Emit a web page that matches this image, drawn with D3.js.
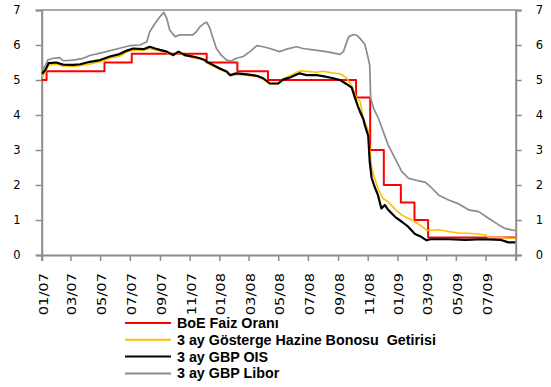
<!DOCTYPE html>
<html>
<head>
<meta charset="utf-8">
<script src="https://cdn.jsdelivr.net/npm/d3@7"></script>
<style>
  html, body { margin: 0; padding: 0; background: #fff; }
  svg { display: block; }
</style>
</head>
<body>
<svg id="chart" width="551" height="387"></svg>
<script>
// BoE policy rate (step changes)
const boeRate = [
  ["2007-01-01", 5.00], ["2007-01-11", 5.25], ["2007-05-10", 5.50], ["2007-07-05", 5.75],
  ["2007-12-06", 5.50], ["2008-02-07", 5.25], ["2008-04-10", 5.00], ["2008-10-08", 4.50],
  ["2008-11-06", 3.00], ["2008-12-04", 2.00], ["2009-01-08", 1.50], ["2009-02-05", 1.00],
  ["2009-03-05", 0.50], ["2009-08-31", 0.50]
];

// 3-month benchmark Treasury bill yield
const tbillYield = [
  ["2007-01-02", 5.10], ["2007-01-09", 5.25], ["2007-01-15", 5.42], ["2007-01-31", 5.45],
  ["2007-02-14", 5.40], ["2007-03-07", 5.39], ["2007-03-21", 5.41], ["2007-04-10", 5.46],
  ["2007-05-01", 5.52], ["2007-05-21", 5.62], ["2007-06-10", 5.68], ["2007-06-25", 5.80],
  ["2007-07-08", 5.86], ["2007-07-29", 5.85], ["2007-08-11", 5.90], ["2007-08-22", 5.86],
  ["2007-09-01", 5.83], ["2007-09-15", 5.78], ["2007-09-28", 5.70], ["2007-10-09", 5.78],
  ["2007-10-22", 5.70], ["2007-11-08", 5.64], ["2007-11-22", 5.60], ["2007-12-02", 5.55],
  ["2007-12-06", 5.50], ["2007-12-19", 5.40], ["2008-01-02", 5.30], ["2008-01-16", 5.22],
  ["2008-01-23", 5.12], ["2008-02-05", 5.16], ["2008-02-26", 5.14], ["2008-03-18", 5.10],
  ["2008-03-31", 5.02], ["2008-04-14", 4.88], ["2008-05-01", 4.90], ["2008-05-11", 5.03],
  ["2008-05-25", 5.12], ["2008-06-14", 5.26], ["2008-07-05", 5.24], ["2008-07-19", 5.22],
  ["2008-08-01", 5.25], ["2008-08-22", 5.20], ["2008-09-05", 5.18], ["2008-09-12", 5.12],
  ["2008-09-19", 5.05], ["2008-09-29", 4.84], ["2008-10-09", 4.48], ["2008-10-16", 4.40],
  ["2008-10-23", 3.90], ["2008-11-02", 3.55], ["2008-11-05", 3.05], ["2008-11-09", 2.50],
  ["2008-11-15", 2.20], ["2008-11-22", 1.90], ["2008-12-02", 1.62], ["2008-12-13", 1.52],
  ["2008-12-27", 1.31], ["2009-01-10", 1.14], ["2009-01-23", 1.05], ["2009-02-06", 0.95],
  ["2009-02-19", 0.83], ["2009-03-02", 0.71], ["2009-03-06", 0.70], ["2009-03-27", 0.72],
  ["2009-04-16", 0.67], ["2009-05-07", 0.63], ["2009-05-27", 0.62], ["2009-06-30", 0.58],
  ["2009-07-07", 0.50], ["2009-08-02", 0.50], ["2009-08-17", 0.48], ["2009-08-31", 0.48]
];

// 3-month GBP OIS
const gbpOis = [
  ["2007-01-02", 5.18], ["2007-01-09", 5.30], ["2007-01-15", 5.48], ["2007-01-31", 5.50],
  ["2007-02-14", 5.44], ["2007-03-07", 5.43], ["2007-03-21", 5.45], ["2007-04-10", 5.52],
  ["2007-05-01", 5.57], ["2007-05-21", 5.67], ["2007-06-10", 5.74], ["2007-06-25", 5.84],
  ["2007-07-08", 5.90], ["2007-07-29", 5.88], ["2007-08-11", 5.95], ["2007-08-22", 5.90],
  ["2007-09-01", 5.86], ["2007-09-15", 5.81], ["2007-09-28", 5.71], ["2007-10-09", 5.81],
  ["2007-10-22", 5.71], ["2007-11-08", 5.67], ["2007-11-22", 5.62], ["2007-12-02", 5.57],
  ["2007-12-06", 5.52], ["2007-12-19", 5.43], ["2008-01-02", 5.33], ["2008-01-16", 5.24],
  ["2008-01-23", 5.14], ["2008-02-05", 5.19], ["2008-02-26", 5.16], ["2008-03-18", 5.12],
  ["2008-03-31", 5.05], ["2008-04-14", 4.90], ["2008-05-01", 4.90], ["2008-05-11", 5.01],
  ["2008-05-25", 5.07], ["2008-06-14", 5.19], ["2008-06-28", 5.14], ["2008-07-19", 5.14],
  ["2008-08-01", 5.11], ["2008-08-22", 5.05], ["2008-09-05", 5.00], ["2008-09-19", 4.88],
  ["2008-09-29", 4.78], ["2008-10-06", 4.48], ["2008-10-12", 4.24], ["2008-10-16", 4.10],
  ["2008-10-23", 3.88], ["2008-10-26", 3.71], ["2008-11-02", 3.40], ["2008-11-05", 2.67],
  ["2008-11-09", 2.20], ["2008-11-15", 1.95], ["2008-11-22", 1.71], ["2008-11-29", 1.33],
  ["2008-12-06", 1.43], ["2008-12-13", 1.29], ["2008-12-27", 1.09], ["2009-01-10", 0.95],
  ["2009-01-23", 0.81], ["2009-02-06", 0.60], ["2009-02-19", 0.52], ["2009-03-02", 0.42],
  ["2009-03-10", 0.45], ["2009-04-16", 0.45], ["2009-05-21", 0.43], ["2009-06-24", 0.45],
  ["2009-08-02", 0.43], ["2009-08-17", 0.36], ["2009-08-31", 0.36]
];

// 3-month GBP Libor
const gbpLibor = [
  ["2007-01-02", 5.28], ["2007-01-08", 5.40], ["2007-01-14", 5.58], ["2007-01-25", 5.62],
  ["2007-02-07", 5.64], ["2007-02-14", 5.55], ["2007-03-07", 5.57], ["2007-03-27", 5.62],
  ["2007-04-10", 5.70], ["2007-05-14", 5.81], ["2007-06-14", 5.92], ["2007-07-01", 5.98],
  ["2007-07-22", 6.00], ["2007-08-05", 6.09], ["2007-08-11", 6.38], ["2007-08-22", 6.62],
  ["2007-09-01", 6.81], ["2007-09-09", 6.93], ["2007-09-15", 6.76], ["2007-09-21", 6.43],
  ["2007-10-02", 6.24], ["2007-10-12", 6.29], ["2007-11-08", 6.29], ["2007-11-15", 6.38],
  ["2007-11-22", 6.52], ["2007-12-02", 6.63], ["2007-12-06", 6.65], ["2007-12-12", 6.50],
  ["2007-12-19", 6.19], ["2007-12-26", 5.90], ["2008-01-05", 5.71], ["2008-01-16", 5.57],
  ["2008-01-26", 5.54], ["2008-02-05", 5.62], ["2008-02-19", 5.67], ["2008-03-04", 5.81],
  ["2008-03-18", 5.98], ["2008-03-31", 5.95], ["2008-04-14", 5.90], ["2008-05-04", 5.81],
  ["2008-05-18", 5.88], ["2008-06-08", 5.95], ["2008-06-21", 5.90], ["2008-07-12", 5.86],
  ["2008-08-08", 5.81], ["2008-09-05", 5.73], ["2008-09-12", 5.81], ["2008-09-19", 6.09],
  ["2008-09-23", 6.24], ["2008-10-03", 6.30], ["2008-10-10", 6.27], ["2008-10-16", 6.19],
  ["2008-10-26", 6.02], ["2008-11-02", 5.62], ["2008-11-05", 5.43], ["2008-11-07", 4.48],
  ["2008-11-13", 4.19], ["2008-11-23", 3.90], ["2008-12-03", 3.52], ["2008-12-13", 3.14],
  ["2008-12-27", 2.76], ["2009-01-10", 2.38], ["2009-01-24", 2.19], ["2009-02-13", 2.12],
  ["2009-02-27", 2.08], ["2009-03-10", 1.95], ["2009-03-27", 1.71], ["2009-04-16", 1.57],
  ["2009-05-07", 1.46], ["2009-05-27", 1.29], ["2009-06-17", 1.24], ["2009-07-07", 1.05],
  ["2009-07-28", 0.86], ["2009-08-10", 0.76], ["2009-08-25", 0.71], ["2009-08-31", 0.70]
];

const tickDates = ["2007-01-01", "2007-03-01", "2007-05-01", "2007-07-01", "2007-09-01",
  "2007-11-01", "2008-01-01", "2008-03-01", "2008-05-01", "2008-07-01", "2008-09-01",
  "2008-11-01", "2009-01-01", "2009-03-01", "2009-05-01", "2009-07-01", "2009-09-01"];
const tickLabels = ["01/07", "03/07", "05/07", "07/07", "09/07", "11/07", "01/08", "03/08",
  "05/08", "07/08", "09/08", "11/08", "01/09", "03/09", "05/09", "07/09"];
const yTicks = [0, 1, 2, 3, 4, 5, 6, 7];

const seriesNames = ["BoE Faiz Oranı", "3 ay Gösterge Hazine Bonosu  Getirisi", "3 ay GBP OIS", "3 ay GBP Libor"];
const seriesColors = ["#ff0000", "#ffc000", "#000000", "#8c8c8c"];

const parse = d3.utcParse("%Y-%m-%d");
const svg = d3.select("#chart");
const axisColor = "#8c8c8c";

const x = d3.scaleUtc()
  .domain([parse("2007-01-01"), parse("2009-09-01")])
  .range([41.7, 515.7]);
const y = d3.scaleLinear().domain([0, 7]).range([255, 10]);

// plot frame top edge
svg.append("line")
  .attr("x1", x.range()[0]).attr("x2", x.range()[1])
  .attr("y1", y(7)).attr("y2", y(7))
  .attr("stroke", axisColor).attr("stroke-width", 1.5);

function styleAxis(g) {
  g.select(".domain").attr("stroke", axisColor).attr("stroke-width", 2);
  g.selectAll(".tick line").attr("stroke", axisColor).attr("stroke-width", 1.5);
  g.selectAll("text").attr("fill", "#000")
    .attr("font-family", "DejaVu Sans, sans-serif").attr("font-size", 11.5);
}

const left = svg.append("g").attr("transform", `translate(${x.range()[0]},0)`)
  .call(d3.axisLeft(y).tickValues(yTicks).tickFormat(d3.format("d")).tickSizeOuter(0).tickSize(6).tickPadding(15));
styleAxis(left);

const right = svg.append("g").attr("transform", `translate(${x.range()[1]},0)`)
  .call(d3.axisRight(y).tickValues(yTicks).tickFormat(d3.format("d")).tickSizeOuter(0).tickSize(6).tickPadding(14));
styleAxis(right);

// date axis with vertical labels, stretched along the reading direction
const labelStretch = 1.13;
const bottom = svg.append("g").attr("transform", `translate(0,${y(0)})`)
  .call(d3.axisBottom(x).tickValues(tickDates.map(parse))
    .tickFormat((d, i) => tickLabels[i] || "").tickSizeOuter(0).tickSize(6));
styleAxis(bottom);
bottom.selectAll("text")
  .attr("transform", `rotate(-90) scale(${labelStretch},1)`)
  .attr("x", -18 / labelStretch).attr("y", 1).attr("dy", "0.35em")
  .attr("text-anchor", "end")
  .attr("font-size", 13);

// series lines
const allSeries = [boeRate, tbillYield, gbpOis, gbpLibor];
const widths = [2, 1.6, 2.2, 1.7];
allSeries.forEach((s, i) => {
  const line = d3.line()
    .x(d => x(parse(d[0])))
    .y(d => y(d[1]))
    .curve(i === 0 ? d3.curveStepAfter : d3.curveLinear);
  svg.append("path")
    .datum(s)
    .attr("d", line)
    .attr("fill", "none")
    .attr("stroke", seriesColors[i])
    .attr("stroke-width", widths[i])
    .attr("stroke-linejoin", "round");
});

// legend
const legend = svg.append("g").attr("transform", "translate(125,323)");
seriesNames.forEach((name, i) => {
  const row = legend.append("g").attr("transform", `translate(0,${i * 16.8})`);
  row.append("line").attr("x1", 0).attr("x2", 46).attr("y1", 0).attr("y2", 0)
    .attr("stroke", seriesColors[i]).attr("stroke-width", 2);
  row.append("text").attr("x", 52).attr("y", 0).attr("dy", "0.35em")
    .attr("font-family", "Liberation Sans, Arial, sans-serif")
    .attr("font-weight", "bold").attr("font-size", 14.3)
    .style("white-space", "pre")
    .text(name);
});
</script>
</body>
</html>
